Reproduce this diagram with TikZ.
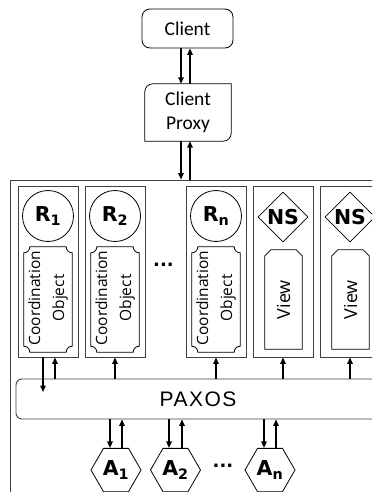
\documentclass[tikz,border=0pt]{standalone}
\usepackage{fontspec}
\usetikzlibrary{arrows.meta,shapes.geometric,calc}
\newfontfamily\calfont{Carlito}
\newfontfamily\labelfont{DejaVu Sans}
\newfontfamily\bodyfont{Open Sans}
\newfontfamily\paxosfont{Liberation Sans}[LetterSpace=7]

% box with concave (scooped) corners, radius 6pt, around node #1
\newcommand\scoopedbox[1]{%
  \draw[innerline]
    ($(#1.north west)+(0,6)$) .. controls ($(#1.north west)+(3.3,6)$) and ($(#1.north west)+(6,3.3)$) .. ($(#1.north west)+(6,0)$)
    -- ($(#1.north east)+(-6,0)$) .. controls ($(#1.north east)+(-6,3.3)$) and ($(#1.north east)+(-3.3,6)$) .. ($(#1.north east)+(0,6)$)
    -- ($(#1.south east)+(0,-6)$) .. controls ($(#1.south east)+(-3.3,-6)$) and ($(#1.south east)+(-6,-3.3)$) .. ($(#1.south east)+(-6,0)$)
    -- ($(#1.south west)+(6,0)$) .. controls ($(#1.south west)+(6,-3.3)$) and ($(#1.south west)+(3.3,-6)$) .. ($(#1.south west)+(0,-6)$)
    -- cycle;}
% box with the two top corners cut off, around node #1
\newcommand\snippedbox[1]{%
  \draw[innerline]
    (#1.south west) -- ($(#1.north west)+(0,6)$) -- ($(#1.north west)+(6,0)$)
    -- ($(#1.north east)+(-6,0)$) -- ($(#1.north east)+(0,6)$) -- (#1.south east) -- cycle;}

\begin{document}
\begin{tikzpicture}[x=1pt,y=-1pt,
  innerline/.style={draw=black, line width=0.8pt},
  frameline/.style={draw=black!75, line width=0.9pt},
  arr/.style={line width=1.4pt, -{Triangle[length=6.5pt,width=5.5pt]}},
  clientbox/.style={draw, line width=0.8pt, rounded corners=8pt, minimum width=91pt,
    minimum height=39pt, inner sep=0, font=\calfont\fontsize{19.5}{23}\selectfont},
  proxytext/.style={minimum width=86pt, minimum height=57pt, inner sep=0, align=center,
    font=\calfont\fontsize{19.5}{24}\selectfont},
  column/.style={frameline, minimum width=60pt, minimum height=171pt, inner sep=0},
  replica/.style={circle, innerline, minimum size=51pt, inner sep=0,
    font=\labelfont\bfseries\fontsize{20.5}{24}\selectfont},
  nsdiamond/.style={diamond, innerline, minimum width=50pt, minimum height=50pt, inner sep=0},
  boldtext/.style={inner sep=0, font=\labelfont\bfseries\fontsize{20.5}{24}\selectfont},
  acceptor/.style={regular polygon, regular polygon sides=6, innerline, minimum size=50pt,
    inner sep=0, font=\labelfont\bfseries\fontsize{20.5}{24}\selectfont},
  coordarea/.style={minimum width=48pt, minimum height=105pt, inner sep=0},
  viewarea/.style={minimum width=37pt, minimum height=99pt, inner sep=0},
  coordtext/.style={rotate=90, align=center, inner sep=0, xshift=1.5pt,
    font=\bodyfont\fontsize{15.5}{24}\selectfont},
  viewtext/.style={rotate=90, inner sep=0, font=\bodyfont\fontsize{18}{22}\selectfont},
  dots/.style={inner sep=0, font=\labelfont\bfseries\fontsize{18}{20}\selectfont}]

\useasboundingbox (0,0) rectangle (372,492);
\clip (0,0) rectangle (372,492);

% server frame
\node[frameline, minimum width=376pt, minimum height=320pt, inner sep=0] (server) at (198,340) {};

% client side
\node[clientbox] (client) at (187.5,28.5) {Client};
\node[proxytext] (proxy) at (188,112.5) {Client\\Proxy};
\draw[innerline]
  (proxy.south west) -- ($(proxy.north west)+(0,8)$)
  .. controls ($(proxy.north west)+(0,3.6)$) and ($(proxy.north west)+(3.6,0)$) .. ($(proxy.north west)+(8,0)$)
  -- (proxy.north east) -- ($(proxy.south east)+(0,-8)$)
  .. controls ($(proxy.south east)+(0,-3.6)$) and ($(proxy.south east)+(-3.6,0)$) .. ($(proxy.south east)+(-8,0)$)
  -- cycle;

% replica columns
\node[column] (col1) at (48,271.5) {};
\node[column] (col2) at (115,271.5) {};
\node[column] (col3) at (216,271.5) {};
\node[column] (col4) at (283,271.5) {};
\node[column] (col5) at (350,271.5) {};

\node[replica] (r1) at (48,216) {R\textsubscript{1}};
\node[replica] (r2) at (115,216) {R\textsubscript{2}};
\node[replica] (rn) at (216,216) {R\textsubscript{n}};

\node[coordarea] (co1) at (48,299.5) {};
\node[coordarea] (co2) at (115,299.5) {};
\node[coordarea] (con) at (216,299.5) {};
\scoopedbox{co1}\scoopedbox{co2}\scoopedbox{con}
\node[coordtext] at (co1) {Coordination\\Object};
\node[coordtext] at (co2) {Coordination\\Object};
\node[coordtext] at (con) {Coordination\\Object};

\node[dots] (rdots) at (163.5,265) {...};

% name servers
\node[nsdiamond] (ns1) at (283,217) {};
\node[nsdiamond] (ns2) at (350,217) {};
\node[boldtext] at (ns1) {NS};
\node[boldtext] at (ns2) {NS};
\node[viewarea] (v1) at (283.5,299.5) {};
\node[viewarea] (v2) at (350.5,299.5) {};
\snippedbox{v1}\snippedbox{v2}
\node[viewtext] at (v1) {View};
\node[viewtext] at (v2) {View};

% consensus layer
\node[frameline, rounded corners=6pt, minimum width=364pt, minimum height=40pt, inner sep=0,
  font=\paxosfont\fontsize{21}{24}\selectfont] (paxos) at (198,399) {PAXOS};

% acceptors
\node[acceptor] (a1) at (116,470) {A\textsubscript{1}};
\node[acceptor] (a2) at (175.5,470) {A\textsubscript{2}};
\node[acceptor] (an) at (270,470) {A\textsubscript{n}};
\node[dots] (adots) at (223,466) {...};

% connectors
\draw[arr] (181,0 |- client.south) -- (181,0 |- proxy.north);
\draw[arr] (190,0 |- proxy.north) -- (190,0 |- client.south);
\draw[arr] (181,0 |- proxy.south) -- (181,0 |- server.north);
\draw[arr] (190,0 |- server.north) -- (190,0 |- proxy.south);

\coordinate (drop) at (43,392);
\draw[arr] (43,0 |- col1.south) -- (drop);
\draw[arr] (55,0 |- paxos.north) -- (55,0 |- col1.south);
\draw[arr] (col2.south |- paxos.north) -- (col2.south);
\draw[arr] (col3.south |- paxos.north) -- (col3.south);
\draw[arr] (col4.south |- paxos.north) -- (col4.south);
\draw[arr] (col5.south |- paxos.north) -- (col5.south);

\draw[arr] (110,0 |- paxos.south) -- (110,0 |- a1.north);
\draw[arr] (122,0 |- a1.north) -- (122,0 |- paxos.south);
\draw[arr] (169,0 |- paxos.south) -- (169,0 |- a2.north);
\draw[arr] (182,0 |- a2.north) -- (182,0 |- paxos.south);
\draw[arr] (264,0 |- paxos.south) -- (264,0 |- an.north);
\draw[arr] (276,0 |- an.north) -- (276,0 |- paxos.south);
\end{tikzpicture}
\end{document}
